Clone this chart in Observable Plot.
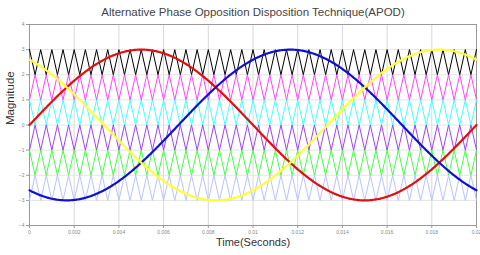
<!DOCTYPE html>
<html><head><meta charset="utf-8">
<script src="https://cdn.jsdelivr.net/npm/d3@7"></script>
<script src="https://cdn.jsdelivr.net/npm/@observablehq/plot@0.6"></script>
<style>body{margin:0;background:#fff}</style>
</head><body><div id="chart"></div>
<script>
const titleText = "Alternative Phase Opposition Disposition Technique(APOD)";
const xLabel = "Time(Seconds)";
const yLabel = "Magnitude";
const xTicks = [0, 0.002, 0.004, 0.006, 0.008, 0.01, 0.012, 0.014, 0.016, 0.018, 0.02];
const xTickLabels = ["0","0.002","0.004","0.006","0.008","0.01","0.012","0.014","0.016","0.018","0.02"];
const yTicks = [-4,-3,-2,-1,0,1,2,3,4];
// carrier bands (lower, upper), colours, start level (0 = low, 1 = high) — APOD alternates phase
const carrierLow = [2, 1, 0, -1, -2, -3];
const carrierColors = ["#000000", "#ff44ff", "#44ffff", "#9a44ff", "#44ff44", "#b8c4ff"];
const carrierStart = [1, 0, 1, 0, 1, 0];
const carrierFreq = 2000; // Hz
// reference sine waves
const refNames = ["a", "b", "c"];
const refPhaseDeg = [0, -120, 120];
const refColors = ["#e01010", "#1010d0", "#ffff33"];
const refAmp = 3;
const refFreq = 50;
const tEnd = 0.02;

const carriers = [];
carrierLow.forEach((lo, i) => {
  const nV = Math.round(tEnd * carrierFreq * 2);
  for (let k = 0; k <= nV; k++) {
    const hi = (k + carrierStart[i]) % 2 === 1;
    carriers.push({band: i, t: k / (2 * carrierFreq), v: hi ? lo + 1 : lo});
  }
});
const refs = [];
refNames.forEach((n, i) => {
  const N = 400;
  for (let k = 0; k <= N; k++) {
    const t = tEnd * k / N;
    refs.push({ref: n, t, v: refAmp * Math.sin(2 * Math.PI * refFreq * t + refPhaseDeg[i] * Math.PI / 180)});
  }
});

const chart = Plot.plot({
  width: 480, height: 255,
  marginTop: 24, marginBottom: 30, marginLeft: 29, marginRight: 4,
  style: {fontFamily: "Liberation Sans, Arial, sans-serif", background: "#fff"},
  x: {domain: [0, tEnd], ticks: xTicks, tickFormat: (d, i) => xTickLabels[i], tickSize: 0, label: null},
  y: {domain: [-4, 4], ticks: yTicks, tickSize: 0, label: null},
  marks: [
    Plot.gridX(xTicks, {stroke: "#d8d8d8", strokeOpacity: 1}),
    Plot.gridY(yTicks, {stroke: "#e4e4e4", strokeOpacity: 1}),
    Plot.frame({stroke: "#999"}),
    Plot.axisX(xTicks, {tickFormat: (d, i) => xTickLabels[i], fontSize: 5, fill: "#888", tickSize: 3, tickPadding: 2, stroke: "#999", label: null}),
    Plot.axisY(yTicks, {fontSize: 5, fill: "#888", tickSize: 3, tickPadding: 2, stroke: "#999", label: null}),
    Plot.line(carriers, {x: "t", y: "v", z: "band", stroke: d => carrierColors[d.band], strokeWidth: 1}),
    Plot.line(refs, {x: "t", y: "v", z: "ref", stroke: d => refColors[refNames.indexOf(d.ref)], strokeWidth: 2.2}),
    Plot.text([titleText], {frameAnchor: "top", dy: -17, fontSize: 11.5, fill: "#444"}),
    Plot.text([xLabel], {frameAnchor: "bottom", dy: 20, fontSize: 11, fill: "#333"}),
    Plot.text([yLabel], {frameAnchor: "left", dx: -19, rotate: -90, fontSize: 11.5, fill: "#333"})
  ]
});
document.getElementById("chart").appendChild(chart);
</script></body></html>
